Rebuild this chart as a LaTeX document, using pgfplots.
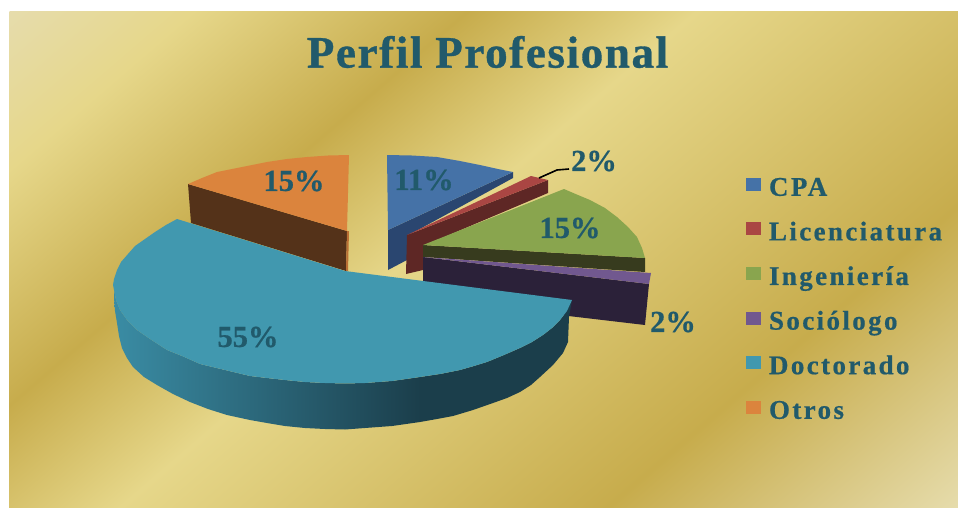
\documentclass[border=0pt]{standalone}
\usepackage{fontspec}
\usepackage{pgfplots}
\pgfplotsset{compat=1.18}
\setmainfont{Liberation Serif}[BoldFeatures={FakeBold=0.6}]
\newfontfamily\titlefont[LetterSpace=3.6,BoldFeatures={FakeBold=0.8}]{Liberation Serif}
\newfontfamily\legendfont[LetterSpace=8.8,BoldFeatures={FakeBold=0.6}]{Liberation Serif}
\definecolor{ink}{HTML}{215A6B}
\definecolor{gA}{HTML}{E6DCAC}
\definecolor{gB}{HTML}{E6D78A}
\definecolor{gC}{HTML}{C7AC4C}
\definecolor{cpa}{HTML}{4572A7}
\definecolor{cpaW}{HTML}{2A4670}
\definecolor{lic}{HTML}{AA4643}
\definecolor{licW}{HTML}{5E2725}
\definecolor{ing}{HTML}{89A54E}
\definecolor{ingW}{HTML}{373B1E}
\definecolor{soc}{HTML}{71588F}
\definecolor{socW}{HTML}{2B2139}
\definecolor{doc}{HTML}{4198AF}
\definecolor{docL}{HTML}{3A8CA4}
\definecolor{docD}{HTML}{1B3E4B}
\definecolor{otr}{HTML}{DB843D}
\definecolor{otrW}{HTML}{543219}
% Gold backdrop: the stops sit in the central 25bp--75bp band of the shading
\pgfdeclarehorizontalshading{goldbg}{100bp}{
  color(0bp)=(gA); color(25bp)=(gA); color(31bp)=(gB); color(40bp)=(gC);
  color(47.5bp)=(gB); color(63.5bp)=(gC); color(75bp)=(gA); color(100bp)=(gA)}
% Outer wall of the largest slice, dark from about two thirds of its width on
\pgfdeclarehorizontalshading{docwall}{100bp}{
  color(0bp)=(docL); color(25bp)=(docL); color(58.4bp)=(docD); color(100bp)=(docD)}
\newcommand{\lbl}[1]{\fontsize{30.5bp}{32bp}\selectfont\bfseries #1}
\begin{document}
\begin{tikzpicture}
\path[use as bounding box] (0,0) rectangle (958bp,508bp);
\fill[white] (0,0) rectangle (958bp,508bp);
\begin{scope}
  \clip (9bp,496bp) rectangle (958bp,0bp);
  \begin{scope}[transform canvas={shift={(9bp,496bp)},rotate=-49.3}]
    \shade[shading=goldbg] (0bp,-1000bp) rectangle (995bp,1000bp);
  \end{scope}
\end{scope}
\begin{axis}[
  at={(0,0)}, anchor=south west,
  x=1bp, y=1bp, y dir=reverse,
  xmin=0, xmax=958, ymin=0, ymax=508,
  hide axis, clip=false,
  legend image code/.code={\fill[draw=none,#1] (0bp,-1bp) rectangle (15bp,12bp);},
  legend style={at={(0.7787,0.652)}, anchor=north west, draw=none, fill=none,
    inner sep=0pt, outer sep=0pt, font=\legendfont\fontsize{27bp}{29bp}\selectfont\bfseries,
    text=ink, row sep=18.6bp, /tikz/column sep=8bp, cells={anchor=west},
    nodes={text height=19bp, text depth=7bp, inner sep=0pt}},
]
% CPA
\addplot[fill=cpaW, draw=none, forget plot] coordinates {(513,172)(513,178)(407,236)(407,260)(388,270)(388,230)};
\addplot[fill=cpa, draw=none, forget plot] coordinates {(387,155)(412,155.5)(437,157)(460,161)(480,165)(498,169)(513,172)(388,230)};
% Licenciatura
\addplot[fill=licW, draw=none, forget plot] coordinates {(407,235)(548,180)(548,193)(423,246)(423,270)(406,274)};
\addplot[fill=lic, draw=none, forget plot] coordinates {(407,235)(531,176)(548,180)};
% Ingenieria
\addplot[fill=ingW, draw=none, forget plot] coordinates {(423,245)(645,258)(645,272)(423,257)};
\addplot[fill=ing, draw=none, forget plot] coordinates {(423,245)(564,189)(578,195)(590,200)(605,208)(617,217)(628,227)(637,237)(642,248)(645,258)};
% Sociologo
\addplot[fill=socW, draw=none, forget plot] coordinates {(423,257)(649,284)(645,325)(560,315)(423,282)};
\addplot[fill=soc, draw=none, forget plot] coordinates {(423,257)(651,273)(649,284)};
% Otros
\addplot[fill=otrW, draw=none, forget plot] coordinates {(188,184)(191,223)(346,271)(347,231)};
\addplot[fill=otr!85!black, draw=none, forget plot] coordinates {(347,231)(349,231)(348,271)(346,271)};
\addplot[fill=otr, draw=none, forget plot] coordinates {(188,184)(202,178)(217,172)(242,167)(267,162)(287,159)(307,157)(328,155.5)(349,155)(347,231)};
% Doctorado: wall, then top face
\addplot[shade, shading=docwall, draw=none, forget plot] coordinates {
  (572,300)(567,311)(560,320)(552,328)(543,335)(532,342)(520,348)(504,355)(487,362)(474,366)(460,370)(440,374)(420,377)(392,381)(365,383)(345,383.5)(325,383)(305,382)(285,380)(267,378)(250,376)(225,370)(200,364)(182,356)(167,350)(150,339)(137,330)(127,320)(120,310)(116,300)(114,290)
  (114,298)(115,311)(117,323)(119,336)(122,348)(127,358)(133,367)(144,377)(157,385)(173,394)(190,402)(208,409)(227,415)(250,420)(267,423)(285,426)(305,428)(325,429)(345,429.5)(365,428)(392,426)(420,422)(437,419)(453,416)(473,410)(493,403)(507,398)(520,392)(531,385)(540,377)(553,365)(563,353)(568,342)(569,317)};
\addplot[fill=doc, draw=none, forget plot] coordinates {
  (177,219)(345,271)(572,300)(567,311)(560,320)(552,328)(543,335)(532,342)(520,348)(504,355)(487,362)(474,366)(460,370)(440,374)(420,377)(392,381)(365,383)(345,383.5)(325,383)(305,382)(285,380)(267,378)(250,376)(225,370)(200,364)(182,356)(167,350)(150,339)(137,330)(127,320)(120,310)(116,300)(114,290)(113,285)(114,279)(117,270)(121,262)(128,254)(135,246)(145,239)(155,232)(166,225)};
% Leader of the upper 2% label
\addplot[black, line width=1.6bp, forget plot] coordinates {(539,178)(557,170)(569,169)};
% Legend keys
\addlegendimage{fill=cpa}\addlegendentry{CPA}
\addlegendimage{fill=lic}\addlegendentry{Licenciatura}
\addlegendimage{fill=ing}\addlegendentry{Ingeniería}
\addlegendimage{fill=soc}\addlegendentry{Sociólogo}
\addlegendimage{fill=doc}\addlegendentry{Doctorado}
\addlegendimage{fill=otr}\addlegendentry{Otros}
% Percent labels
\node[text=ink] at (axis cs:424,180) {\lbl{11\%}};
\node[text=ink] at (axis cs:594,161) {\lbl{2\%}};
\node[text=ink] at (axis cs:570,228) {\lbl{15\%}};
\node[text=ink] at (axis cs:673,322) {\lbl{2\%}};
\node[text=ink] at (axis cs:248,337) {\lbl{55\%}};
\node[text=ink] at (axis cs:294,181) {\lbl{15\%}};
% Title
\node[text=ink] at (axis cs:487.5,52) {\titlefont\fontsize{45bp}{48bp}\selectfont\bfseries Perfil Profesional};
\end{axis}
\end{tikzpicture}
\end{document}
